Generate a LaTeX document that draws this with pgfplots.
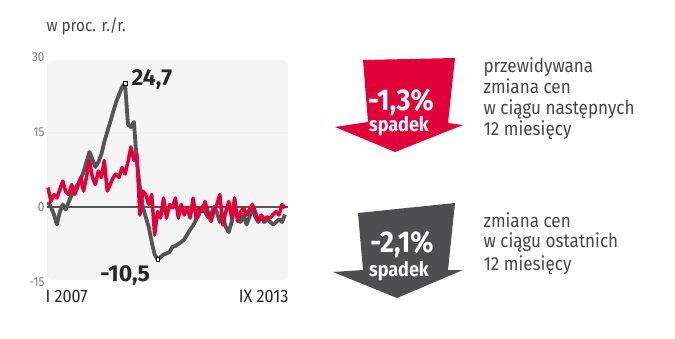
\documentclass[border=0pt]{standalone}
\usepackage{pgfplots}
\pgfplotsset{compat=1.18}
\usepackage{pgfplotstable}
\usepackage{fontspec}
\setmainfont{Fira Sans}
\newfontfamily\cond[FakeStretch=0.9]{Fira Sans}
\definecolor{myred}{RGB}{226,0,58}
\definecolor{mygray}{RGB}{85,85,85}
\definecolor{arrgray}{RGB}{78,78,80}
\definecolor{bggray}{RGB}{244,244,244}
\definecolor{tickgray}{RGB}{120,120,120}
\definecolor{txtgray}{RGB}{70,70,70}

\pgfplotstableread{
i gray red
0 1 3.9
1 0 1.1
2 -1.5 2.5
3 -3.5 1.8
4 -1 3.5
5 0.5 5.2
6 -0.5 3
7 1 2.5
8 2.5 4.5
9 3.5 2.5
10 4.5 4
11 5.5 5.9
12 7 3.2
13 9 6
14 11 9.3
15 9.5 5.9
16 8 4.5
17 9 7.2
18 10.5 5.9
19 13 9.3
20 15 3.2
21 17 4.5
22 19 5.9
23 21 6.6
24 22.5 5.9
25 24 7.9
26 24.7 6.6
27 16.5 9
28 16 12
29 17 9.3
30 9 10.6
31 4 -1.6
32 0 3.2
33 -2 2.5
34 -4 0.5
35 -7 2.5
36 -9.5 -5.6
37 -10.5 -0.9
38 -10 -2.2
39 -9.5 1.8
40 -9.3 -2.2
41 -9 0.5
42 -8 -0.2
43 -7.8 1.8
44 -7.4 -2.2
45 -7 0.5
46 -6.5 -1.6
47 -5.5 -0.2
48 -4.5 -2.2
49 -3.7 1.8
50 -2.5 -2.2
51 -1.5 -0.2
52 0 -0.9
53 -1 1.1
54 -2 -1
55 -1.5 -2.9
56 0 -1
57 -1 0.5
58 -3 2.5
59 -2 -3.6
60 -4 -1
61 -5 1.1
62 -3 -2.2
63 0 1.8
64 -2 -2.9
65 -3 -1
66 -1.5 -0.2
67 -3.5 -1.6
68 -2 -0.5
69 0 0.5
70 -2 -1
71 -3 -2.9
72 -2 -1.6
73 -3 -2.5
74 -2.5 -2
75 -3 -2.2
76 -3.5 -1.5
77 -3 -0.9
78 -2.5 -1.6
79 -3 0.5
80 -1.5 -0.2
}\data

\begin{document}
\begin{tikzpicture}
\path[use as bounding box] (0pt,0pt) rectangle (675pt,338pt);
\begin{axis}[
  at={(48pt,56pt)}, anchor=south west,
  scale only axis, width=237pt, height=225pt,
  xmin=0, xmax=80, ymin=-15, ymax=30,
  axis line style={draw=none},
  xtick=\empty, ytick={-15,0,15,30},
  major tick length=0pt,
  yticklabel style={font=\cond\fontsize{13}{13}\selectfont, text=tickgray},
  /pgf/number format/assume math mode=true,
  clip=false]
\fill[bggray, rounded corners=6pt] (axis cs:-0.34,-14.6) rectangle (axis cs:81,29.4);
\draw[gray!12, line width=1pt] (axis cs:-0.34,15) -- (axis cs:81,15);
\draw[mygray, line width=2pt] (axis cs:-0.34,0) -- (axis cs:81,0);
\addplot[mygray, line width=3.8pt, line join=round] table[x=i, y=gray] {\data};
\addplot[myred, line width=3.5pt, line join=round] table[x=i, y=red] {\data};
\addplot[only marks, mark=square*, mark size=1.8pt, mark options={fill=white, draw=black, line width=0.6pt}] coordinates {(26,24.7) (37,-10.5)};
\node[anchor=base west, font=\fontsize{23}{23}\selectfont\bfseries, text=black!85, xshift=3pt, yshift=-2pt] at (axis cs:26,24.7) {24,7};
\node[anchor=base east, font=\fontsize{23}{23}\selectfont\bfseries, text=black!85, xshift=-4pt, yshift=-22pt] at (axis cs:37,-10.5) {-10,5};
\end{axis}

% title and x labels
\node[anchor=base west, font=\cond\fontsize{17}{17}\selectfont, text=txtgray] at (43pt,306pt) {w proc. r./r.};
\node[anchor=base west, font=\cond\fontsize{18}{18}\selectfont, text=black!85] at (42pt,36pt) {I 2007};
\node[anchor=base east, font=\cond\fontsize{18}{18}\selectfont, text=black!85] at (292pt,36pt) {IX 2013};

% red arrow
\fill[myred] (363pt,278pt) -- (455pt,280pt) -- (448pt,215pt) -- (463pt,213pt) -- (395pt,186pt) -- (335pt,211pt) -- (368pt,216pt) -- cycle;
\node[font=\cond\fontsize{30}{30}\selectfont\bfseries, text=white] at (401pt,236pt) {-1,3\%};
\node[font=\cond\fontsize{20}{20}\selectfont\bfseries, text=white] at (399pt,212pt) {spadek};

% gray arrow
\fill[arrgray] (358pt,125pt) -- (455pt,135pt) -- (448pt,68pt) -- (463pt,68pt) -- (397pt,40pt) -- (333pt,66pt) -- (363pt,68pt) -- cycle;
\node[font=\cond\fontsize{30}{30}\selectfont\bfseries, text=white] at (402pt,94pt) {-2,1\%};
\node[font=\cond\fontsize{20}{20}\selectfont\bfseries, text=white] at (399pt,67pt) {spadek};

% right texts
\begin{scope}[every node/.style={anchor=base west, font=\cond\fontsize{19}{19}\selectfont, text=txtgray}]
\node at (480pt,265pt) {przewidywana};
\node at (480pt,244pt) {zmiana cen};
\node at (480pt,223pt) {w ciągu następnych};
\node at (480pt,202pt) {12 miesięcy};
\node at (480pt,111pt) {zmiana cen};
\node at (480pt,91pt) {w ciągu ostatnich};
\node at (480pt,68pt) {12 miesięcy};
\end{scope}
\end{tikzpicture}
\end{document}
